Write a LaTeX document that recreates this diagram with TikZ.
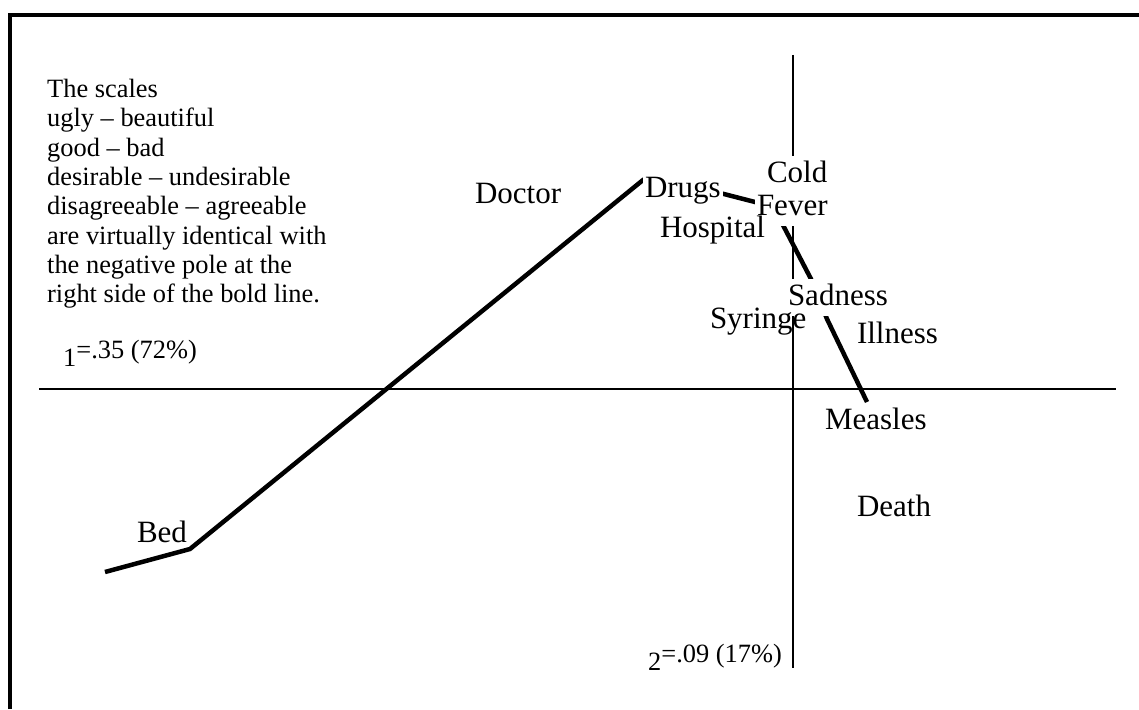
\documentclass[tikz,border=0pt]{standalone}
\usepackage{fontspec}
\setmainfont{Liberation Serif}
\newcommand\biglab{\fontsize{31}{36}\selectfont}
\newcommand\blocktxt{\fontsize{26.4}{29.3}\selectfont}
\begin{document}
\begin{tikzpicture}[x=1pt,y=-1pt,
  frame/.style={line width=3.5pt, line join=miter},
  axis/.style={line width=2.5pt},
  boldline/.style={line width=4.5pt, line join=miter},
  lab/.style={font=\biglab, inner xsep=2pt, inner ysep=4pt, outer sep=0pt, anchor=base west, text height=21.7pt, text depth=6.8pt},
  masked/.style={lab, fill=white},
  axlab/.style={font=\blocktxt, inner sep=0pt, anchor=base west}]
\useasboundingbox (0,0) rectangle (1139,709);
% frame
\coordinate (fbl) at (10,709);
\coordinate (ftl) at (10,15);
\coordinate (ftr) at (1139,15);
\draw[frame] (fbl) -- (ftl) -- (ftr);
% axes
\coordinate (hl) at (39,389);
\coordinate (hr) at (1116,389);
\coordinate (vt) at (793,55);
\coordinate (vb) at (793,668);
\draw[axis] (hl) -- (hr);
\draw[axis] (vt) -- (vb);
% bold line
\coordinate (b0) at (105,572);
\coordinate (b1) at (190,549);
\coordinate (b2) at (643,180);
\coordinate (b3) at (700,188);
\coordinate (b4) at (720,193);
\coordinate (b5) at (755,202);
\coordinate (b6) at (775,210);
\coordinate (b7) at (785,229);
\coordinate (b8) at (811,279);
\coordinate (b9) at (827,319);
\coordinate (b10) at (867,402);
\draw[boldline] (b0) -- (b1) -- (b2) -- (b3) -- (b4) -- (b5) -- (b6) -- (b7) -- (b8) -- (b9) -- (b10);
% text block
\node[font=\blocktxt, inner sep=0pt, anchor=north west, align=left] (note) at (47,79)
 {The scales\\ugly -- beautiful\\good -- bad\\desirable -- undesirable\\disagreeable -- agreeable\\are virtually identical with\\the negative pole at the\\right side of the bold line.};
% axis labels
\node[axlab] (l1) at (63,366) {1\raisebox{8pt}{=.35 (72\%)}};
\node[axlab] (l2) at (648,670) {2\raisebox{8pt}{=.09 (17\%)}};
% labels
\node[lab] (doctor) at (473,203) {Doctor};
\node[masked] (drugs) at (643,197) {Drugs};
\node[masked] (cold) at (765,182) {Cold};
\node[masked] (fever) at (755,215) {Fever};
\node[lab] (hospital) at (658,237) {Hospital};
\node[masked] (sadness) at (786,305) {Sadness};
\node[lab] (syringe) at (708,328) {Syringe};
\node[lab] (illness) at (855,343) {Illness};
\node[lab] (measles) at (823,429) {Measles};
\node[lab] (death) at (855,516) {Death};
\node[lab] (bed) at (135,542) {Bed};
\end{tikzpicture}
\end{document}
